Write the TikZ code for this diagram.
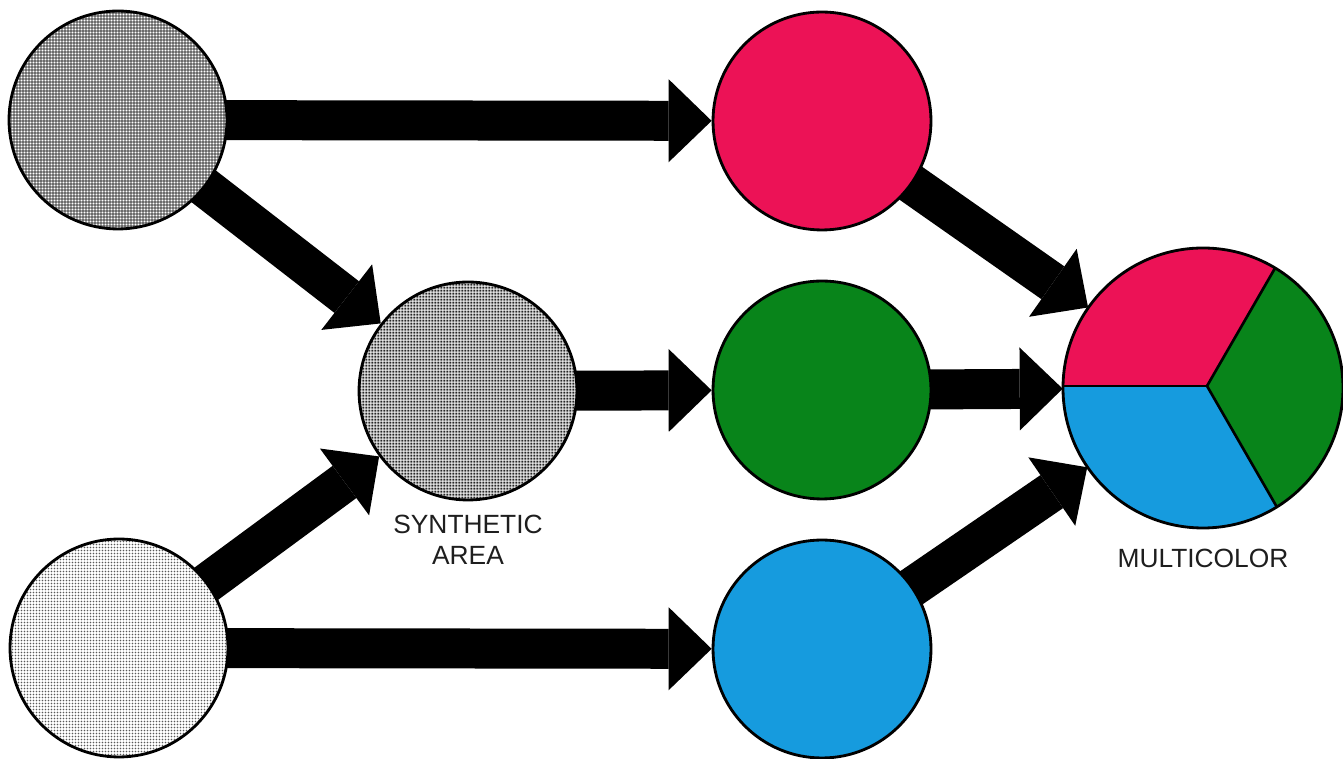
\documentclass[tikz,border=0pt]{standalone}
\usepackage{fontspec}
\setmainfont{Liberation Sans}
\usetikzlibrary{arrows.meta,patterns.meta,backgrounds,calc}
\definecolor{cred}{RGB}{236,18,86}
\definecolor{cgreen}{RGB}{8,132,26}
\definecolor{cblue}{RGB}{22,155,222}
\definecolor{txt}{RGB}{30,30,30}
\tikzdeclarepattern{name=darkgrid, type=colored,
  bottom left={(0pt,0pt)}, top right={(0.06cm,0.06cm)}, tile size={(0.06cm,0.06cm)},
  code={\fill[black] (0pt,0pt) rectangle (0.06cm,0.06cm);
        \fill[white] (0.0095cm,0.0095cm) rectangle (0.0505cm,0.0505cm);}}
\tikzdeclarepattern{name=midgrid, type=colored,
  bottom left={(0pt,0pt)}, top right={(0.06cm,0.06cm)}, tile size={(0.06cm,0.06cm)},
  code={\fill[white] (0pt,0pt) rectangle (0.06cm,0.06cm);
        \fill[black!85] (0.01cm,0.01cm) rectangle (0.046cm,0.046cm);}}
\tikzdeclarepattern{name=lightdots, type=colored,
  bottom left={(0pt,0pt)}, top right={(0.06cm,0.06cm)}, tile size={(0.06cm,0.06cm)},
  code={\fill[white] (0pt,0pt) rectangle (0.06cm,0.06cm);
        \fill[black!65] (0.03cm,0.03cm) circle[radius=0.017cm];}}
\tikzset{
  ball/.style={circle, draw=black, line width=1.6pt, minimum size=4.36cm, inner sep=0pt},
  fat/.style={line width=0.8cm, -{Triangle[length=0.86cm,width=1.66cm,line width=0pt]}},
  lbl/.style={font=\fontsize{15}{18}\selectfont, text=txt, align=center, inner sep=0pt, anchor=north},
  sect/.style={line width=1.5pt, draw=black}
}
\begin{document}
\begin{tikzpicture}[x=0.02cm,y=-0.02cm]
\useasboundingbox (0,0) rectangle (1343,759);
% circles
\node[ball, pattern=darkgrid] (tl) at (118,120) {};
\node[ball, pattern=lightdots] (bl) at (119,648) {};
\node[ball, pattern=midgrid] (sy) at (468,391) {};
\node[ball, fill=cred] (r) at (822,121) {};
\node[ball, fill=cgreen] (g) at (822,390) {};
\node[ball, fill=cblue] (b) at (822,649) {};
\node[circle, minimum size=5.6cm, inner sep=0pt] (m) at (1203,388) {};
\coordinate (pc) at (1207,386);
\begin{scope}
  \clip (m.center) circle[radius=140];
  \fill[cred] (pc) -- ++(180:400) -- ($(pc)+(-120:400)$) -- ($(pc)+(-60:400)$) -- cycle;
  \fill[cgreen] (pc) -- ++(-60:400) -- ($(pc)+(0:400)$) -- ($(pc)+(60:400)$) -- cycle;
  \fill[cblue] (pc) -- ++(60:400) -- ($(pc)+(120:400)$) -- ($(pc)+(180:400)$) -- cycle;
  \draw[sect] (pc) -- ++(180:200);
  \draw[sect] (pc) -- ++(-60:200);
  \draw[sect] (pc) -- ++(60:200);
\end{scope}
\draw[line width=1.6pt] (m.center) circle[radius=140];
% labels
\node[lbl] (synlbl) at ($(sy.south)+(0,13)$) {SYNTHETIC\\AREA};
\node[lbl] (mlbl) at ($(m.south)+(0,20)$) {MULTICOLOR};
% arrows
\begin{pgfonlayer}{background}
\fill[white] (0,0) rectangle (1343,759);
\draw[fat] (tl.center) -- (r);
\draw[fat] (tl.center) -- (sy);
\draw[fat] (bl.center) -- (sy);
\draw[fat] (bl.center) -- (b);
\draw[fat] (sy.center) -- (g);
\draw[fat] (r.center) -- (m);
\draw[fat] (g.center) -- (m);
\draw[fat] (b.center) -- (m);
\end{pgfonlayer}
\end{tikzpicture}
\end{document}
